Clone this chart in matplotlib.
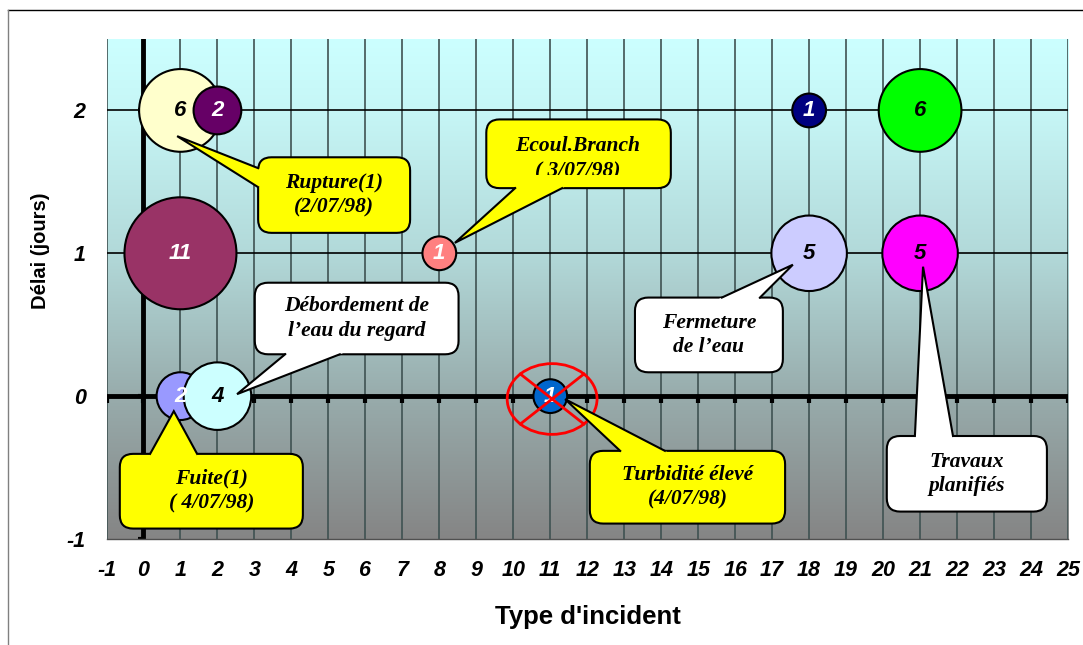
import numpy as np
import matplotlib.pyplot as plt
from matplotlib.patches import FancyBboxPatch, Polygon, Ellipse
from matplotlib.colors import LinearSegmentedColormap
from matplotlib.lines import Line2D
from matplotlib.transforms import Bbox, TransformedBbox

# bubble data : type d'incident, delai (jours), nombre d'incidents
types = [1, 2, 1, 8, 18, 21, 18, 21, 1, 2, 11]
delais = [2, 2, 1, 1, 2, 2, 1, 1, 0, 0, 0]
nombres = [6, 2, 11, 1, 1, 6, 5, 5, 2, 4, 1]
couleurs = ['#ffffcc', '#660066', '#993366', '#ff8080', '#000080', '#00ff00',
            '#ccccff', '#ff00ff', '#9999ff', '#ccffff', '#0066cc']
couleurs_txt = ['k', 'w', 'w', 'w', 'w', 'k', 'k', 'k', 'w', 'k', 'w']

x_ticks = list(range(-1, 26))
y_ticks = [-1, 0, 1, 2]

W, H = 1083, 645
fig = plt.figure(figsize=(W / 100, H / 100), dpi=100)
L, R, T, B = 106.5, 1068, 39, 539
ax = fig.add_axes([L / W, 1 - B / H, (R - L) / W, (B - T) / H])
ax.set_xlim(-1, 25)
ax.set_ylim(-1, 2.5)

px_x = (R - L) / 26.0
px_y = (B - T) / 3.5
asp = px_x / px_y

# fond degrade
cmap = LinearSegmentedColormap.from_list('fond', [
    (0.0, '#858585'), (0.286, '#98acac'), (0.571, '#b2d9d9'),
    (0.857, '#c6f6f6'), (1.0, '#ccffff')])
ax.imshow(np.linspace(0, 1, 256).reshape(-1, 1), extent=[-1, 25, -1, 2.5],
          origin='lower', cmap=cmap, aspect='auto', zorder=0)

# grille
for x in x_ticks:
    ax.axvline(x, color='#3f5252', lw=1.2, zorder=1)
for y in [1, 2]:
    ax.axhline(y, color='k', lw=1.2, zorder=1)

# axes a 0
ax.axhline(0, color='k', lw=3.5, zorder=2)
ax.vlines(x_ticks, -0.05, 0, color='k', lw=3, zorder=2)
ax.axvline(0, color='k', lw=3.5, zorder=2)
ax.hlines(y_ticks, -0.15, 0, color='k', lw=3, zorder=2)

for s in ['top', 'left', 'right']:
    ax.spines[s].set_visible(False)
ax.spines['bottom'].set_color('#505050')
ax.spines['bottom'].set_linewidth(1)

ax.set_xticks(x_ticks)
ax.set_xticklabels([str(v) for v in x_ticks])
ax.set_yticks(y_ticks)
ax.set_yticklabels([str(v) for v in y_ticks])
ax.tick_params(length=0, labelsize=15.5)
ax.tick_params(axis='x', pad=15)
ax.tick_params(axis='y', pad=15)
for lab in ax.get_xticklabels() + ax.get_yticklabels():
    lab.set_fontfamily('Liberation Sans')
    lab.set_fontweight('bold')
    lab.set_fontstyle('italic')

# bulles
ax.scatter(types, delais, s=np.array(nombres) * 591, c=couleurs,
           edgecolors='k', linewidths=1.5, zorder=3, clip_on=False)
for x, y, n, c in zip(types, delais, nombres, couleurs_txt):
    ax.text(x, y, str(n), ha='center', va='center', color=c, fontsize=16,
            fontfamily='Liberation Sans', fontweight='bold', fontstyle='italic',
            zorder=4)

# incident annule
cx, cy, ew, eh = 11.05, -0.02, 2.43, 0.495
ax.add_patch(Ellipse((cx, cy), ew, eh, fill=False, ec='#ff0000', lw=2, zorder=5))
d = np.cos(np.pi / 4)
ax.plot([cx - ew / 2 * d, cx + ew / 2 * d], [cy + eh / 2 * d, cy - eh / 2 * d],
        color='#ff0000', lw=2, zorder=5)
ax.plot([cx - ew / 2 * d, cx + ew / 2 * d], [cy - eh / 2 * d, cy + eh / 2 * d],
        color='#ff0000', lw=2, zorder=5)

police = dict(fontsize=15.5, fontfamily='Liberation Serif', fontweight='bold',
              fontstyle='italic', zorder=9)


def bulle(box, tip, base, face, text=None):
    x0, x1, y0, y1 = box
    ax.add_patch(FancyBboxPatch((x0, y0), x1 - x0, y1 - y0,
                                boxstyle='round,pad=0,rounding_size=0.36',
                                mutation_aspect=asp, fc=face, ec='k', lw=1.5,
                                zorder=6, clip_on=False))
    tx, ty = tip
    (b1x, b1y), (b2x, b2y) = base
    e = 0.08
    ax.add_patch(Polygon([(tx, ty), (b1x + (b1x - tx) * e, b1y + (b1y - ty) * e),
                          (b2x + (b2x - tx) * e, b2y + (b2y - ty) * e)],
                         closed=True, fc=face, ec='none', zorder=7, clip_on=False))
    ax.plot([b1x, tx, b2x], [b1y, ty, b2y], color='k', lw=1.5, zorder=8,
            solid_joinstyle='miter', clip_on=False)
    if text is not None:
        ax.text((x0 + x1) / 2, (y0 + y1) / 2, text, ha='center', va='center',
                linespacing=1.3, **police)


jaune, blanc = '#ffff00', '#ffffff'
bulle((3.10, 7.21, 1.143, 1.672), (0.91, 1.82), [(3.10, 1.596), (3.10, 1.463)],
      jaune, 'Rupture(1)\n(2/07/98)')
bulle((9.27, 14.26, 1.456, 1.937), (8.42, 1.073), [(10.05, 1.456), (11.32, 1.456)],
      jaune)
ax.text(11.75, 1.752, 'Ecoul.Branch', ha='center', va='center', **police)
t2 = ax.text(11.75, 1.575, '( 3/07/98)', ha='center', va='center', **police)
t2.set_clip_box(TransformedBbox(Bbox([[9.27, 1.545], [14.26, 1.9]]), ax.transData))
t2.set_clip_on(True)
bulle((3.01, 8.52, 0.293, 0.794), (2.53, 0.014), [(3.83, 0.293), (5.31, 0.293)],
      blanc, 'Débordement de\nl\u2019eau du regard')
bulle((-0.64, 4.31, -0.927, -0.404), (0.82, -0.105), [(0.18, -0.404), (1.45, -0.404)],
      jaune, 'Fuite(1)\n( 4/07/98)')
bulle((12.07, 17.35, -0.892, -0.383), (11.40, -0.021), [(12.89, -0.383), (14.10, -0.383)],
      jaune, 'Turbidité élevé\n(4/07/98)')
bulle((13.29, 17.29, 0.167, 0.69), (17.56, 0.92), [(15.64, 0.69), (16.67, 0.69)],
      blanc, 'Fermeture\nde l\u2019eau')
bulle((20.10, 24.43, -0.808, -0.279), (21.08, 0.906), [(20.86, -0.279), (21.89, -0.279)],
      blanc, 'Travaux\nplanifiés')

# titres des axes
fig.text(40 / W, 1 - 251 / H, 'Délai (jours)', rotation=90, ha='center', va='center',
         fontsize=14.5, fontfamily='Liberation Sans', fontweight='bold')
fig.text(588 / W, 1 - 617 / H, "Type d'incident", ha='center', va='center',
         fontsize=18.5, fontfamily='Liberation Sans', fontweight='bold')

# cadre exterieur
fig.add_artist(Line2D([8 / W, 1], [1 - 10 / H, 1 - 10 / H], color='k', lw=1))
fig.add_artist(Line2D([8 / W, 8 / W], [0, 1 - 10 / H], color='#808080', lw=1))

fig.savefig('out.png', dpi=100)
